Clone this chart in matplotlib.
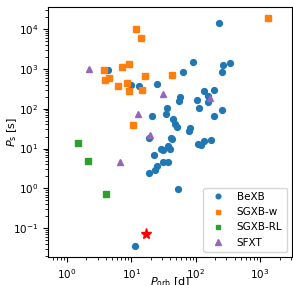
import matplotlib
matplotlib.use("Agg")
import matplotlib.pyplot as plt

bexb_porb = [4.37, 9.8, 13.1, 24.9, 62.9, 56.5, 54, 233, 92, 269, 337, 259, 136, 192, 153, 155, 104,
             35.9, 34.3, 112, 253, 190, 21.3, 45, 47.8, 50.7, 82.7, 77.8, 18.5, 42, 43.5, 136, 175, 107,
             121, 28.4, 31.1, 37.7, 39.5, 30.8, 37.7, 22.6, 25.1, 23.4, 18.9, 52.6, 11.5]
bexb_ps = [923, 394, 365, 410, 850, 197, 159, 14000, 1480, 1230, 1400, 835, 273, 295, 205, 145, 162,
           104, 75, 104, 94, 66, 66, 55, 42, 34, 32, 27.5, 18.7, 18.7, 17.3, 15.7, 16, 12.7,
           12.5, 9.9, 9.2, 11.6, 9.9, 4.58, 4.5, 7.0, 3.7, 2.88, 2.42, 0.94, 0.035]

sgxbw_porb = [12.0, 14.0, 7.05, 9.2, 3.8, 4.5, 3.84, 16.2, 6.2, 8.6, 9.25, 14.7, 42.5, 1320, 10.7]
sgxbw_ps = [10000, 5900, 1100, 1300, 920, 600, 525, 675, 370, 440, 283, 300, 690, 18700, 39]

sgxbrl_porb = [1.47, 2.12, 4.02]
sgxbrl_ps = [13.5, 4.85, 0.73]

sfxt_porb = [2.19, 12.5, 6.7, 31, 169, 19.4]
sfxt_ps = [1000, 72, 4.66, 230, 189, 21.8]

star_porb = [16.8]
star_ps = [0.070]

plt.rcParams['font.size'] = 7.5
fig = plt.figure(figsize=(2.93, 2.85), dpi=100)
ax = fig.add_axes([0.164, 0.098, 0.832, 0.877])

ms = 4.2
ax.plot(bexb_porb, bexb_ps, 'o', color='#1f77b4', ms=ms, label='BeXB')
ax.plot(sgxbw_porb, sgxbw_ps, 's', color='#ff7f0e', ms=ms, label='SGXB-w')
ax.plot(sgxbrl_porb, sgxbrl_ps, 's', color='#2ca02c', ms=ms, label='SGXB-RL')
ax.plot(sfxt_porb, sfxt_ps, '^', color='#9467bd', ms=ms + 0.5, label='SFXT')
ax.plot(star_porb, star_ps, '*', color='red', ms=8)

ax.set_xscale('log')
ax.set_yscale('log')
ax.set_xlim(0.51, 3100)
ax.set_ylim(0.019, 35000)
ax.set_xlabel(r'$P_{\rm orb}$ [d]', fontsize=8)
ax.set_ylabel(r'$P_{\rm s}$ [s]', fontsize=8)
ax.yaxis.set_label_coords(-0.119, 0.5)
ax.xaxis.set_label_coords(0.5, -0.072)
ax.legend(loc='lower right', fontsize=7.5, markerscale=0.8)

fig.savefig('out.png', dpi=100)
